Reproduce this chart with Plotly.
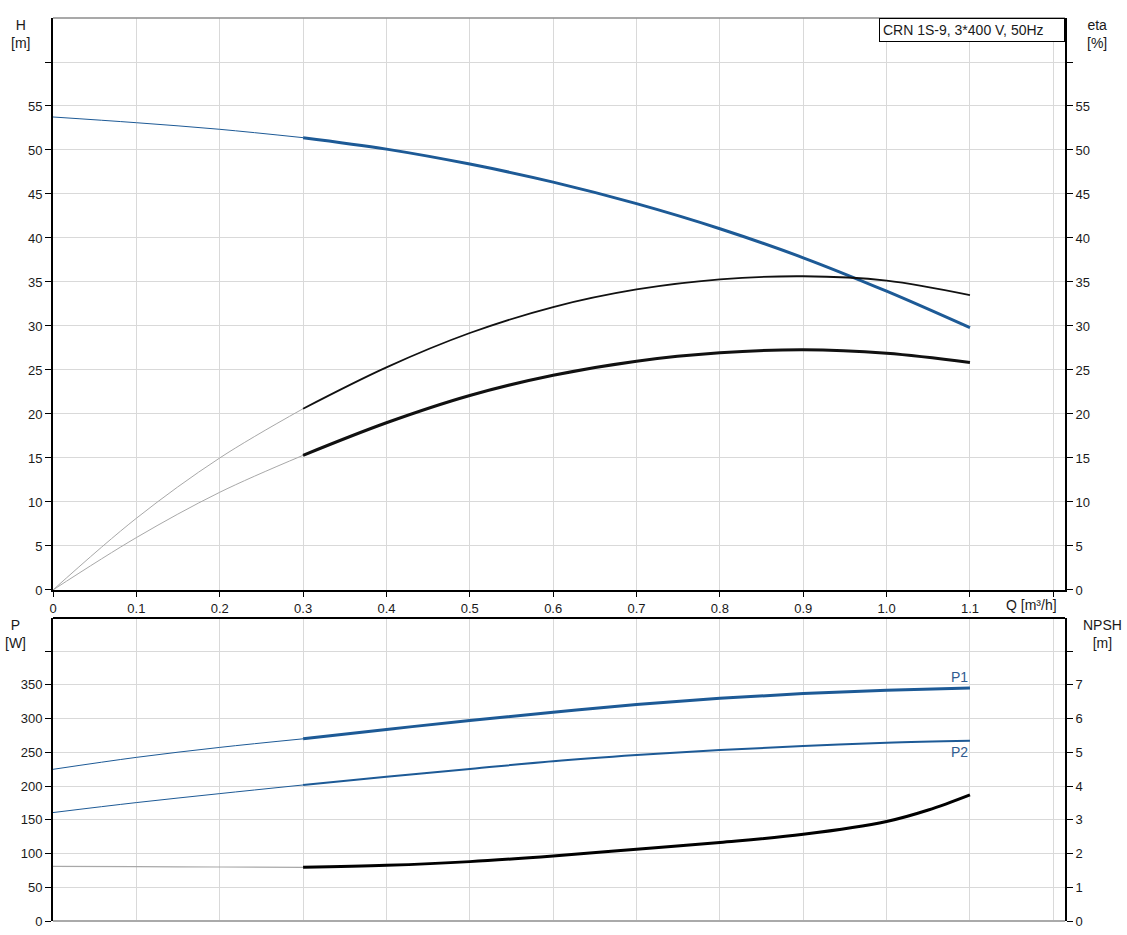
import plotly.graph_objects as go

# ---- data ----
q = [0.0, 0.1, 0.2, 0.3, 0.4, 0.5, 0.6, 0.7, 0.8, 0.9, 1.0, 1.1]
head = [53.75, 53.1, 52.35, 51.4, 50.1, 48.4, 46.35, 43.9, 41.05, 37.75, 33.95, 29.8]
eta_pump = [0.0, 8.15, 15.0, 20.6, 25.3, 29.2, 32.15, 34.15, 35.3, 35.65, 35.15, 33.5]
eta_total = [0.0, 5.95, 11.1, 15.3, 19.0, 22.1, 24.4, 26.0, 26.95, 27.3, 26.9, 25.85]
p1 = [224.8, 242.5, 257.3, 270.0, 283.9, 297.2, 309.5, 320.7, 330.1, 337.1, 342.0, 345.3]
p2 = [160.7, 175.5, 188.8, 201.6, 213.9, 225.3, 236.8, 245.9, 253.3, 259.2, 264.1, 267.1]
q_npsh = [0.0, 0.1, 0.2, 0.3, 0.4, 0.5, 0.6, 0.7, 0.8, 0.9, 1.0, 1.05, 1.1]
npsh = [1.62, 1.61, 1.60, 1.59, 1.65, 1.76, 1.93, 2.13, 2.33, 2.57, 2.95, 3.29, 3.74]

x_ticks = [0, 0.1, 0.2, 0.3, 0.4, 0.5, 0.6, 0.7, 0.8, 0.9, 1.0, 1.1, 1.2]
x_labels = ["0", "0.1", "0.2", "0.3", "0.4", "0.5", "0.6", "0.7", "0.8", "0.9", "1.0", "1.1", ""]
h_ticks = [0, 5, 10, 15, 20, 25, 30, 35, 40, 45, 50, 55, 60]
h_labels = ["0", "5", "10", "15", "20", "25", "30", "35", "40", "45", "50", "55", ""]
p_ticks = [0, 50, 100, 150, 200, 250, 300, 350, 400]
p_labels = ["0", "50", "100", "150", "200", "250", "300", "350", ""]
n_ticks = [0, 1, 2, 3, 4, 5, 6, 7, 8]
n_labels = ["0", "1", "2", "3", "4", "5", "6", "7", ""]
title_text = "CRN 1S-9, 3*400 V, 50Hz"

BLUE = "#1d5a96"
GRAY = "#a8a8a8"
GRID = "#d9d9d9"
FONT = "Liberation Sans, Arial, sans-serif"
TXT = "#1a1a1a"

K = 3  # index of the 0.3 point where curves become thick

fig = go.Figure()


def add(x, y, color, width, xa, ya):
    fig.add_trace(go.Scatter(x=x, y=y, mode="lines", line=dict(color=color, width=width, shape="spline"),
                             xaxis=xa, yaxis=ya, showlegend=False, hoverinfo="skip"))


# top panel
add(q[:K + 1], head[:K + 1], BLUE, 1, "x", "y")
add(q[K:], head[K:], BLUE, 3, "x", "y")
add(q[:K + 1], eta_pump[:K + 1], GRAY, 1, "x", "y3")
add(q[K:], eta_pump[K:], "#111111", 1.8, "x", "y3")
add(q[:K + 1], eta_total[:K + 1], GRAY, 1, "x", "y3")
add(q[K:], eta_total[K:], "#111111", 3, "x", "y3")

# bottom panel
add(q[:K + 1], p1[:K + 1], BLUE, 1, "x2", "y2")
add(q[K:], p1[K:], BLUE, 3, "x2", "y2")
add(q[:K + 1], p2[:K + 1], BLUE, 1, "x2", "y2")
add(q[K:], p2[K:], BLUE, 2, "x2", "y2")
add(q_npsh[:K + 1], npsh[:K + 1], GRAY, 1.2, "x2", "y4")
add(q_npsh[K:], npsh[K:], "#000000", 3, "x2", "y4")

TOP_DOM = [0.3666, 1.0]
BOT_DOM = [0.0, 0.3355]
XR = [0, 1.214]

tickfont = dict(family=FONT, size=13, color=TXT)

fig.update_layout(
    width=1127, height=935, autosize=False,
    margin=dict(l=53, r=62, t=18, b=14, autoexpand=False),
    paper_bgcolor="white", plot_bgcolor="white",
    font=dict(family=FONT, size=13, color=TXT),
    xaxis=dict(domain=[0, 1], anchor="y", range=XR, tickvals=x_ticks, ticktext=x_labels,
               ticks="outside", ticklen=5, tickcolor="black", showline=True, linecolor="black", linewidth=2,
               showgrid=True, gridcolor=GRID, zeroline=False, tickfont=tickfont),
    xaxis2=dict(domain=[0, 1], anchor="y2", range=XR, tickvals=x_ticks, showticklabels=False, ticks="",
                showline=False, showgrid=True, gridcolor=GRID, zeroline=False),
    yaxis=dict(domain=TOP_DOM, anchor="x", range=[0, 65], tickvals=h_ticks, ticktext=h_labels,
               ticks="outside", ticklen=6, tickcolor="black", showline=True, linecolor="black", linewidth=2,
               showgrid=True, gridcolor=GRID, zeroline=False, tickfont=tickfont),
    yaxis3=dict(overlaying="y", side="right", anchor="x", range=[0, 65], tickvals=h_ticks, ticktext=h_labels,
                ticks="outside", ticklen=6, tickcolor="black", showline=True, linecolor="black", linewidth=2,
                showgrid=False, zeroline=False, tickfont=tickfont),
    yaxis2=dict(domain=BOT_DOM, anchor="x2", range=[0, 449], tickvals=p_ticks, ticktext=p_labels,
                ticks="outside", ticklen=6, tickcolor="black", showline=True, linecolor="black", linewidth=2,
                showgrid=True, gridcolor=GRID, zeroline=False, tickfont=tickfont),
    yaxis4=dict(overlaying="y2", side="right", anchor="x2", range=[0, 8.98], tickvals=n_ticks, ticktext=n_labels,
                ticks="outside", ticklen=6, tickcolor="black", showline=True, linecolor="black", linewidth=2,
                showgrid=False, zeroline=False, tickfont=tickfont),
)

# panel borders
fig.add_shape(type="line", xref="paper", yref="paper", x0=0, x1=1, y0=1, y1=1,
              line=dict(color="#8c8c8c", width=1.5))
fig.add_shape(type="line", xref="paper", yref="paper", x0=0, x1=1, y0=BOT_DOM[1], y1=BOT_DOM[1],
              line=dict(color="black", width=2))
fig.add_shape(type="line", xref="paper", yref="paper", x0=0, x1=1, y0=0, y1=0,
              line=dict(color="#aaaaaa", width=2))

afont = dict(family=FONT, size=14, color=TXT)
fig.add_annotation(text="H<br>[m]", xref="paper", yref="paper", x=-0.0319, y=0.982,
                   xanchor="center", yanchor="middle", showarrow=False, font=afont)
fig.add_annotation(text="eta<br>[%]", xref="paper", yref="paper", x=1.0316, y=0.982,
                   xanchor="center", yanchor="middle", showarrow=False, font=afont)
fig.add_annotation(text="P<br>[W]", xref="paper", yref="paper", x=-0.0366, y=0.318,
                   xanchor="center", yanchor="middle", showarrow=False, font=afont)
fig.add_annotation(text="NPSH<br>[m]", xref="paper", yref="paper", x=1.0366, y=0.318,
                   xanchor="center", yanchor="middle", showarrow=False, font=afont)
fig.add_annotation(text="Q [m³/h]", xref="x", yref="paper", x=1.2, y=TOP_DOM[0],
                   xanchor="right", yanchor="top", xshift=6, yshift=-5, showarrow=False,
                   font=dict(family=FONT, size=14, color=TXT))
fig.add_annotation(text=title_text, xref="paper", yref="paper", x=1, y=1, xanchor="right", yanchor="top",
                   showarrow=False, bordercolor="black", borderwidth=1, borderpad=3, bgcolor="white",
                   width=178, align="left", font=afont)
fig.add_annotation(text="P1", xref="x2", yref="y2", x=1.088, y=361, showarrow=False,
                   font=dict(family=FONT, size=14, color="#2f5b8f"))
fig.add_annotation(text="P2", xref="x2", yref="y2", x=1.088, y=250, showarrow=False,
                   font=dict(family=FONT, size=14, color="#2f5b8f"))

fig.write_html("out.html", config={"displayModeBar": False},
               post_script="document.body.style.margin='0';document.body.style.padding='0';")
